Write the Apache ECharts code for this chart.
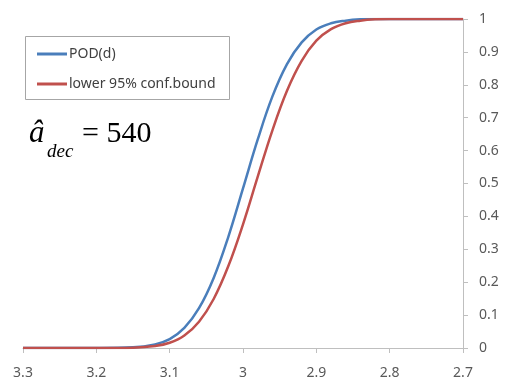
<!DOCTYPE html>
<html>
<head>
<meta charset="utf-8">
<script src="https://cdn.jsdelivr.net/npm/echarts@6/dist/echarts.min.js"></script>
<style>
  html, body { margin: 0; padding: 0; background: #fff; }
  #chart { width: 508px; height: 381px; }
</style>
</head>
<body>
<div id="chart"></div>
<script>
// Flaw depth parameter (axis runs from 3.3 down to 2.7)
const depth = [3.30, 3.25, 3.20, 3.15, 3.12, 3.10, 3.08, 3.06, 3.04, 3.02, 3.00,
               2.98, 2.96, 2.94, 2.92, 2.90, 2.88, 2.86, 2.84, 2.82, 2.80, 2.75, 2.70];

// Probability of detection curve
const podValues = [0, 0, 0.0001, 0.002, 0.011, 0.027, 0.061, 0.121, 0.213, 0.338, 0.485,
                   0.633, 0.764, 0.863, 0.929, 0.968, 0.987, 0.995, 0.999, 1, 1, 1, 1];

// Lower 95% confidence bound of the POD curve
const lowerValues = [0, 0, 0, 0.001, 0.006, 0.016, 0.038, 0.080, 0.149, 0.249, 0.376,
                     0.520, 0.661, 0.782, 0.873, 0.934, 0.969, 0.987, 0.995, 0.999, 1, 1, 1];

const seriesNames = ['POD(d)', 'lower 95% conf.bound'];
const seriesColors = ['#4A7EBB', '#C0504D'];

const pairs = (xs, ys) => xs.map((x, i) => [x, ys[i]]);

const labelFont = 'Noto Sans';
const chart = echarts.init(document.getElementById('chart'));

chart.setOption({
  animation: false,
  grid: { left: 23, right: 45, top: 19, bottom: 33, containLabel: false },
  xAxis: {
    type: 'value',
    inverse: true,
    min: 2.7,
    max: 3.3,
    interval: 0.1,
    axisLine: { show: true, onZero: false, lineStyle: { color: '#BFBFBF', width: 1 } },
    axisTick: { show: true, inside: false, length: 5, lineStyle: { color: '#BFBFBF' } },
    splitLine: { show: false },
    axisLabel: {
      margin: 18,
      color: '#595959',
      fontFamily: labelFont,
      fontSize: 14,
      formatter: v => String(parseFloat(v.toFixed(1)))
    }
  },
  yAxis: {
    type: 'value',
    position: 'right',
    min: 0,
    max: 1,
    interval: 0.1,
    axisLine: { show: true, lineStyle: { color: '#BFBFBF', width: 1 } },
    axisTick: { show: true, inside: false, length: 5, lineStyle: { color: '#BFBFBF' } },
    splitLine: { show: false },
    axisLabel: {
      margin: 16,
      color: '#595959',
      fontFamily: labelFont,
      fontSize: 14,
      formatter: v => String(parseFloat(v.toFixed(1)))
    }
  },
  legend: {
    orient: 'vertical',
    left: 32,
    top: 42,
    itemGap: 16,
    itemWidth: 30,
    itemHeight: 3,
    icon: 'rect',
    data: seriesNames,
    textStyle: { color: '#404040', fontFamily: labelFont, fontSize: 14, padding: [0, 0, 0, -3] }
  },
  graphic: [
    {
      type: 'rect',
      shape: { x: 25.5, y: 36.5, width: 204, height: 63 },
      style: { fill: 'none', stroke: '#A6A6A6', lineWidth: 1 },
      z: 10
    },
    {
      type: 'text',
      x: 29, y: 149,
      style: { text: 'â', font: 'italic 31px "Liberation Serif"', fill: '#000', verticalAlign: 'bottom' }
    },
    {
      type: 'text',
      x: 47, y: 161,
      style: { text: 'dec', font: 'italic 19px "Liberation Serif"', fill: '#000', verticalAlign: 'bottom' }
    },
    {
      type: 'text',
      x: 82, y: 149,
      style: { text: '= 540', font: '30px "Liberation Serif"', fill: '#000', verticalAlign: 'bottom' }
    }
  ],
  series: [
    {
      name: seriesNames[0],
      type: 'line',
      data: pairs(depth, podValues),
      smooth: 0.4,
      showSymbol: false,
      color: seriesColors[0],
      lineStyle: { width: 2.5, color: seriesColors[0] }
    },
    {
      name: seriesNames[1],
      type: 'line',
      data: pairs(depth, lowerValues),
      smooth: 0.4,
      showSymbol: false,
      color: seriesColors[1],
      lineStyle: { width: 2.5, color: seriesColors[1] }
    }
  ]
});
</script>
</body>
</html>
